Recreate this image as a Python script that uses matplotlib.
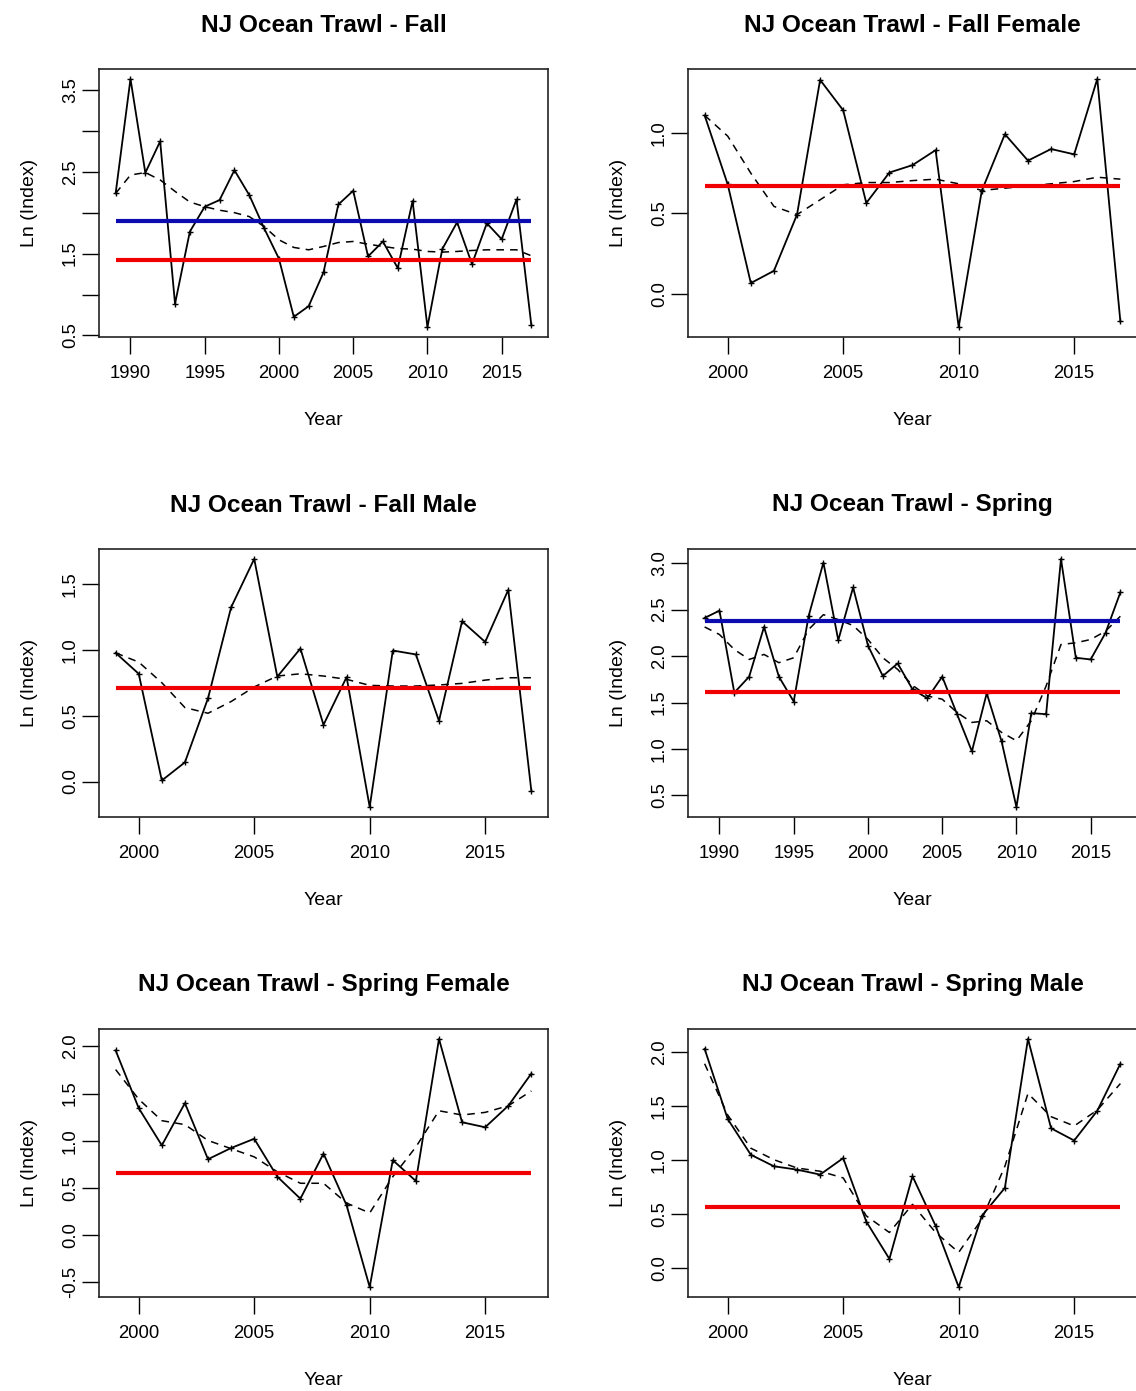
import matplotlib
matplotlib.use("Agg")
import matplotlib.pyplot as plt
import numpy as np

plt.rcParams['font.family'] = ['Liberation Sans', 'DejaVu Sans']

# ---------------- data ----------------
years_long = list(range(1989, 2018))
years_short = list(range(1999, 2018))

fall_idx = [2.235, 3.634, 2.487, 2.872, 0.886, 1.769, 2.073, 2.154, 2.519, 2.215,
            1.81, 1.437, 0.727, 0.857, 1.27, 2.10, 2.268, 1.465, 1.648, 1.323,
            2.142, 0.602, 1.555, 1.883, 1.372, 1.870, 1.676, 2.162, 0.622]
fall_smooth = [2.235, 2.46, 2.49, 2.40, 2.26, 2.13, 2.073, 2.03, 2.000, 1.952,
               1.830, 1.668, 1.575, 1.546, 1.587, 1.635, 1.648, 1.615, 1.587, 1.562,
               1.554, 1.526, 1.518, 1.526, 1.538, 1.546, 1.546, 1.546, 1.473]
fall_blue, fall_red = 1.903, 1.425

ff_idx = [1.109, 0.68, 0.068, 0.144, 0.493, 1.329, 1.140, 0.565, 0.754, 0.80,
          0.893, -0.205, 0.641, 0.992, 0.828, 0.90, 0.867, 1.335, -0.170]
ff_smooth = [1.109, 0.98, 0.75, 0.544, 0.493, 0.585, 0.678, 0.692, 0.692, 0.704,
             0.713, 0.684, 0.643, 0.657, 0.671, 0.684, 0.698, 0.725, 0.713]
ff_red = 0.671

fm_idx = [0.978, 0.819, 0.008, 0.146, 0.633, 1.324, 1.692, 0.797, 1.011, 0.431,
          0.794, -0.194, 0.996, 0.966, 0.461, 1.218, 1.061, 1.457, -0.073]
fm_smooth = [0.978, 0.908, 0.751, 0.562, 0.519, 0.608, 0.719, 0.802, 0.819, 0.802,
             0.777, 0.731, 0.726, 0.726, 0.734, 0.746, 0.771, 0.789, 0.789]
fm_red = 0.713

spr_idx = [2.411, 2.489, 1.607, 1.779, 2.314, 1.779, 1.511, 2.429, 3.007, 2.171,
           2.739, 2.114, 1.786, 1.921, 1.643, 1.546, 1.779, 1.375, 0.975, 1.60,
           1.082, 0.375, 1.386, 1.375, 3.046, 1.982, 1.964, 2.25, 2.686]
spr_smooth = [2.314, 2.232, 2.071, 1.964, 2.018, 1.929, 1.982, 2.286, 2.446, 2.393,
              2.329, 2.179, 1.982, 1.857, 1.686, 1.571, 1.536, 1.393, 1.286, 1.304,
              1.179, 1.089, 1.304, 1.679, 2.125, 2.143, 2.179, 2.268, 2.429]
spr_blue, spr_red = 2.382, 1.618

sf_idx = [1.958, 1.346, 0.951, 1.399, 0.804, 0.923, 1.021, 0.619, 0.385, 0.864,
          0.315, -0.552, 0.794, 0.573, 2.080, 1.196, 1.143, 1.371, 1.713]
sf_smooth = [1.755, 1.441, 1.213, 1.171, 1.003, 0.916, 0.829, 0.671, 0.549, 0.549,
             0.339, 0.234, 0.619, 0.934, 1.318, 1.273, 1.301, 1.371, 1.528]
sf_red = 0.661

sm_idx = [2.031, 1.38, 1.049, 0.942, 0.911, 0.865, 1.018, 0.429, 0.083, 0.850,
          0.39, -0.178, 0.482, 0.742, 2.123, 1.294, 1.181, 1.457, 1.893]
sm_smooth = [1.893, 1.417, 1.110, 1.003, 0.926, 0.896, 0.834, 0.482, 0.328, 0.589,
             0.328, 0.144, 0.451, 0.942, 1.617, 1.402, 1.316, 1.463, 1.709]
sm_red = 0.567

titles = ["NJ Ocean Trawl - Fall", "NJ Ocean Trawl - Fall Female",
          "NJ Ocean Trawl - Fall Male", "NJ Ocean Trawl - Spring",
          "NJ Ocean Trawl - Spring Female", "NJ Ocean Trawl - Spring Male"]

xticks_long = [1990, 1995, 2000, 2005, 2010, 2015]
xticks_short = [2000, 2005, 2010, 2015]

yticks = [
    [0.5, 1.0, 1.5, 2.0, 2.5, 3.0, 3.5],
    [0.0, 0.5, 1.0],
    [0.0, 0.5, 1.0, 1.5],
    [0.5, 1.0, 1.5, 2.0, 2.5, 3.0],
    [-0.5, 0.0, 0.5, 1.0, 1.5, 2.0],
    [0.0, 0.5, 1.0, 1.5, 2.0],
]
ytick_labels = [
    ["0.5", "", "1.5", "", "2.5", "", "3.5"],
    ["0.0", "0.5", "1.0"],
    ["0.0", "0.5", "1.0", "1.5"],
    ["0.5", "1.0", "1.5", "2.0", "2.5", "3.0"],
    ["-0.5", "0.0", "0.5", "1.0", "1.5", "2.0"],
    ["0.0", "0.5", "1.0", "1.5", "2.0"],
]

panels = [
    (years_long, fall_idx, fall_smooth, fall_blue, fall_red, xticks_long),
    (years_short, ff_idx, ff_smooth, None, ff_red, xticks_short),
    (years_short, fm_idx, fm_smooth, None, fm_red, xticks_short),
    (years_long, spr_idx, spr_smooth, spr_blue, spr_red, xticks_long),
    (years_short, sf_idx, sf_smooth, None, sf_red, xticks_short),
    (years_short, sm_idx, sm_smooth, None, sm_red, xticks_short),
]

# ---------------- figure ----------------
W, H = 1136, 1391
fig = plt.figure(figsize=(W / 100, H / 100), dpi=100)

col_left = [99, 688]
ax_w = 449
row_top = [69, 549, 1029]
ax_h = 268

BLUE = '#0b0bb0'
RED = '#f00000'

for i, (yrs, idx, smo, blue, red, xt) in enumerate(panels):
    r, c = divmod(i, 2)
    left = col_left[c] / W
    bottom = 1 - (row_top[r] + ax_h) / H
    ax = fig.add_axes([left, bottom, ax_w / W, ax_h / H])

    ax.plot(yrs, smo, color='black', lw=1.1, ls=(0, (5, 4)), zorder=2)
    ax.plot(yrs, idx, color='black', lw=1.3, marker='+', ms=5, mew=1.0, zorder=3)
    if blue is not None:
        ax.hlines(blue, yrs[0], yrs[-1], color=BLUE, lw=3.0, zorder=4)
    ax.hlines(red, yrs[0], yrs[-1], color=RED, lw=3.0, zorder=4)

    # R-style 4% padding
    x0, x1 = yrs[0], yrs[-1]
    dx = (x1 - x0) * 0.04
    ax.set_xlim(x0 - dx, x1 + dx)
    vals = list(idx) + list(smo) + [red] + ([blue] if blue is not None else [])
    y0, y1 = min(vals), max(vals)
    dy = (y1 - y0) * 0.04
    ax.set_ylim(y0 - dy, y1 + dy)

    ax.set_xticks(xt)
    ax.set_xticklabels([str(v) for v in xt])
    ax.set_yticks(yticks[i])
    ax.set_yticklabels(ytick_labels[i], rotation=90, va='center')

    ax.tick_params(axis='both', direction='out', length=12, width=1.0,
                   labelsize=13.3, colors='black')
    ax.tick_params(axis='x', pad=8.5)
    ax.tick_params(axis='y', pad=2.5)
    for sp in ax.spines.values():
        sp.set_linewidth(1.2)
        sp.set_color('#222222')

    ax.set_title(titles[i], fontsize=17.6, fontweight='bold', pad=27)
    ax.set_xlabel("Year", fontsize=14, labelpad=21)
    ax.set_ylabel("Ln (Index)", fontsize=14, labelpad=17)

fig.savefig("out.png", dpi=100, facecolor='white')
